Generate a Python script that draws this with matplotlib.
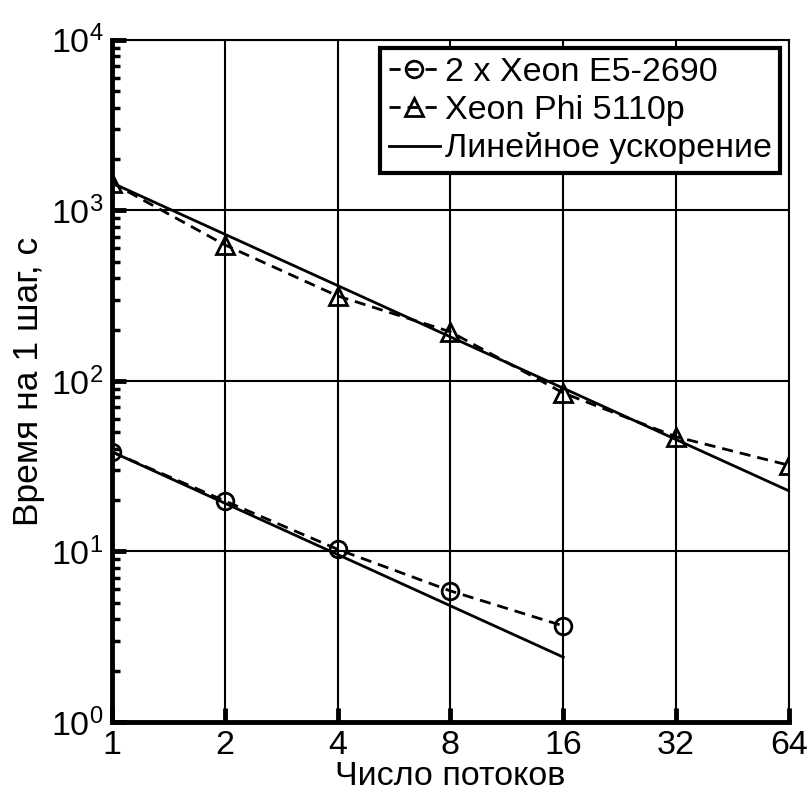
import numpy as np
import matplotlib
matplotlib.use('Agg')
import matplotlib.pyplot as plt
from matplotlib.ticker import FixedLocator, FixedFormatter, LogLocator, NullLocator, LogFormatterMathtext

plt.rcParams['font.family'] = ['Liberation Sans', 'DejaVu Sans']
plt.rcParams['mathtext.fontset'] = 'custom'
plt.rcParams['mathtext.rm'] = 'Liberation Sans'
plt.rcParams['mathtext.default'] = 'regular'

# число потоков
threads_cpu = [1, 2, 4, 8, 16]
threads_phi = [1, 2, 4, 8, 16, 32, 64]

# время на 1 шаг, с
time_cpu = [38.4, 19.8, 10.3, 5.87, 3.66]
time_phi = [1450, 628, 315, 194, 85, 47, 32]

# линейное ускорение
lin_cpu = [38.4, 19.2, 9.6, 4.8, 2.4]
lin_phi = [1450, 725, 362.5, 181.25, 90.6, 45.3, 22.65]

xticks = [1, 2, 4, 8, 16, 32, 64]
xticklabels = ['1', '2', '4', '8', '16', '32', '64']

fs = 24.5

fig = plt.figure(figsize=(8.1, 7.96), dpi=100)
ax = fig.add_axes([0.138, 0.093, 0.836, 0.857])

lw = 2.0
ax.plot(threads_cpu, time_cpu, color='black', ls=(0, (4, 2.5)), lw=lw,
        marker='o', ms=12, mfc='none', mew=2.0, label='2 x Xeon E5-2690')
ax.plot(threads_phi, time_phi, color='black', ls=(0, (4, 2.5)), lw=lw,
        marker='^', ms=13, mfc='none', mew=2.0, label='Xeon Phi 5110p')
ax.plot(threads_phi, lin_phi, color='black', ls='-', lw=lw, label='Линейное ускорение')
ax.plot(threads_cpu, lin_cpu, color='black', ls='-', lw=lw)

ax.set_xscale('log', base=2)
ax.set_yscale('log')
ax.set_xlim(1, 64)
ax.set_ylim(1, 1e4)

ax.xaxis.set_major_locator(FixedLocator(xticks))
ax.xaxis.set_major_formatter(FixedFormatter(xticklabels))
ax.xaxis.set_minor_locator(NullLocator())
ax.yaxis.set_major_locator(LogLocator(base=10, numticks=10))
ax.yaxis.set_major_formatter(LogFormatterMathtext())
ax.yaxis.set_minor_locator(LogLocator(base=10, subs=np.arange(2, 10), numticks=10))

ax.grid(True, which='major', color='black', lw=1.5)
ax.tick_params(which='both', direction='in', labelsize=fs, top=False, right=False)
ax.tick_params(axis='x', which='major', length=10, width=3.5, pad=6)
ax.tick_params(axis='y', which='major', length=10, width=3.5, pad=6)
ax.tick_params(axis='y', which='minor', length=6, width=2.5)

for side in ['left', 'bottom']:
    ax.spines[side].set_linewidth(3.5)
for side in ['top', 'right']:
    ax.spines[side].set_linewidth(1.5)

ax.set_xlabel('Число потоков', fontsize=fs, labelpad=0)
ax.set_ylabel('Время на 1 шаг, с', fontsize=fs + 1, labelpad=4)

leg = ax.legend(loc='upper right', fontsize=fs, handlelength=1.5, handletextpad=0.15,
                borderpad=0.25, labelspacing=0.2, borderaxespad=0.25,
                fancybox=False, framealpha=1, edgecolor='black')
leg.get_frame().set_linewidth(3)

fig.savefig('out.png', dpi=100)
